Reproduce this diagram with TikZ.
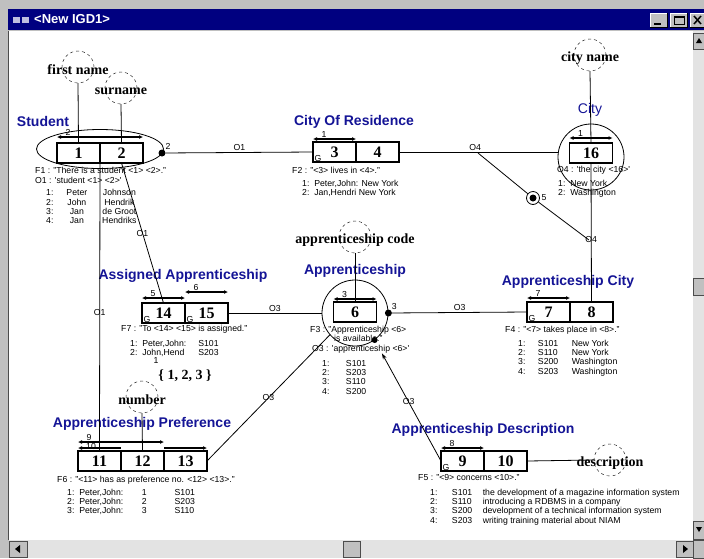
\documentclass[tikz,border=0pt]{standalone}
\usepackage{fontspec}
\setmainfont{Liberation Serif}
\setsansfont{Liberation Sans}
\usetikzlibrary{positioning,shapes.geometric,arrows.meta}

\definecolor{otblue}{RGB}{20,20,150}
\definecolor{winblue}{RGB}{0,0,128}
\definecolor{wingray}{RGB}{192,192,192}

\begin{document}
\begin{tikzpicture}[x=1pt,y=-1pt,
    rolebox/.style={draw, line width=1.2pt, minimum width=43pt, minimum height=20pt,
        inner sep=0pt, outer sep=0pt, font=\fontsize{16}{16}\selectfont\bfseries},
    otname/.style={text=otblue, font=\fontsize{14}{14}\selectfont\sffamily\bfseries, inner sep=0pt},
    attrname/.style={font=\fontsize{14}{14}\selectfont\bfseries, inner sep=0pt},
    attrcirc/.style={draw, circle, dash pattern=on 3pt off 3pt, minimum size=32pt, inner sep=0pt},
    tiny/.style={font=\fontsize{8.7}{9.4}\selectfont\sffamily, inner sep=0pt},
    fact/.style={tiny, anchor=base west},
    pop/.style={tiny, anchor=north west},
    gmark/.style={tiny, anchor=south west, xshift=1.5pt, yshift=0.5pt},
    ulabel/.style={tiny, anchor=south west, xshift=8pt, yshift=0.5pt},
    roledot/.style={circle, fill=black, minimum size=7pt, inner sep=0pt},
    uniq/.style={line width=1.1pt, {Latex[length=4pt,width=4pt]}-{Latex[length=4pt,width=4pt]}},
    conn/.style={line width=0.8pt},
    btn/.style={fill=wingray, draw=gray!60!black, line width=0.6pt},
]
    \useasboundingbox (0,0) rectangle (704,558);

    % Window frame and title bar
    \fill[wingray] (0,0) rectangle (704,558);
    \fill[white] (9,31) rectangle (693,540);
    \draw[gray!60!black, line width=1pt] (8.5,31) -- (8.5,540);
    \fill[winblue] (8,9) rectangle (704,30);
    \fill[white!75!winblue] (13,17) rectangle (20,23);
    \fill[white!75!winblue] (22,17) rectangle (29,23);
    \node[anchor=west, text=white, font=\fontsize{13}{13}\selectfont\sffamily\bfseries, inner sep=0pt] (title) at (34,19.5) {<New IGD1>};

    % Title bar buttons
    \foreach \bx in {650,670,690} {
        \fill[wingray] (\bx,13) rectangle ++(17,14);
        \draw[white] (\bx,27) -- (\bx,13) -- ++(17,0);
        \draw[black] (\bx,27) -- ++(17,0) -- ++(0,-14);
    }
    \draw[line width=2pt] (654,24) -- (661,24);
    \draw[line width=1pt] (674,16) rectangle (684,24);
    \draw[line width=2pt] (674,16.5) -- (684,16.5);
    \draw[line width=1.5pt] (694,16) -- (701,24) (701,16) -- (694,24);

    % Scroll bars
    \fill[gray!22] (693,31) rectangle (704,540);
    \fill[gray!22] (9,540) rectangle (693,558);
    \draw[btn] (693,33) rectangle (704,49);
    \draw[btn] (693,278) rectangle (704,295);
    \draw[btn] (693,521) rectangle (704,539);
    \draw[btn] (9,541) rectangle (27,557);
    \draw[btn] (343,541) rectangle (360,557);
    \draw[btn] (676,541) rectangle (693,557);
    \draw[btn] (693,540) rectangle (704,558);
    \fill (699,38) -- (702,43) -- (696,43) -- cycle;
    \fill (696,527) -- (702,527) -- (699,532) -- cycle;
    \fill (15,549) -- (20,545) -- (20,553) -- cycle;
    \fill (688,549) -- (683,545) -- (683,553) -- cycle;

    % Student
    \node[draw, ellipse, minimum width=127pt, minimum height=39pt, conn] (studc) at (100,149) {};
    \node[rolebox, anchor=north west] (r1) at (57,143) {1};
    \node[rolebox, right=0pt of r1] (r2) {2};
    \node[otname] (studn) at (43,121) {Student};
    \draw[uniq] ([yshift=6pt]r1.north west) -- ([yshift=6pt]r2.north east) node[ulabel, pos=0] {2};
    \node[attrcirc] (fname) at (78,67) {};
    \node[attrname] at ([yshift=-3pt]fname.center) {first name};
    \node[attrcirc] (sname) at (121,88) {};
    \node[attrname] at ([yshift=-3pt]sname.center) {surname};
    \draw[conn] (fname.south) -- (r1.north);
    \draw[conn] (sname.south) -- (r2.north);
    \node[roledot] (d2) at (162,153) {};
    \node[tiny, above right=1pt of d2] {2};
    \node[fact] (f1) at (35,173) {F1 : "There is a student <1> <2>."};
    \node[fact] (o1) at (35,183) {O1 : \textquotesingle student <1> <2>\textquotesingle};
    \node[pop] (popstud) at (46,189) {\begin{tabular}{@{}l@{\hspace{13pt}}c@{\hspace{15pt}}c@{}}
        1: & Peter & Johnson\\
        2: & John & Hendrik\\
        3: & Jan & de Groot\\
        4: & Jan & Hendriks
    \end{tabular}};

    % City Of Residence
    \node[otname] (resn) at (354,122) {City Of Residence};
    \node[rolebox, anchor=north west] (r3) at (313,142) {3};
    \node[rolebox, right=0pt of r3] (r4) {4};
    \node[gmark] at (r3.south west) {G};
    \draw[uniq] ([yshift=3pt]r3.north west) -- ([yshift=3pt]r3.north east) node[ulabel, pos=0] {1};
    \node[fact] (f2) at (292,173) {F2 : "<3> lives in <4>."};
    \node[pop] (popres) at (302,179.5) {\begin{tabular}{@{}l@{}}
        1:\ \ Peter,John: New York\\
        2:\ \ Jan,Hendri New York
    \end{tabular}};
    \draw[conn] (d2) -- (r3.west) node[tiny, midway, above=1.5pt] {O1};

    % City
    \node[attrcirc] (cname) at (590,55) {};
    \node[attrname] at ([yshift=-3pt]cname.center) {city name};
    \node[text=otblue, font=\fontsize{14}{14}\selectfont\sffamily, inner sep=0pt] (cityn) at (590,110) {City};
    \node[draw, circle, minimum size=66pt, inner sep=0pt, conn] (cityc) at (591,157) {};
    \node[rolebox] (r16) at (591,153) {16};
    \draw[uniq] ([yshift=5pt]r16.north west) -- ([yshift=5pt]r16.north east) node[ulabel, pos=0] {1};
    \draw[conn] (cname.south) -- (r16.north);
    \node[fact] (o4) at (557,172) {O4 : \textquotesingle the city <16>\textquotesingle};
    \node[pop] (popcity) at (558,179.5) {\begin{tabular}{@{}l@{}}
        1:\ \ New York\\
        2:\ \ Washington
    \end{tabular}};
    \draw[conn] (r4.east) -- (cityc.west |- r4.east) node[tiny, pos=0.48, above=1pt] {O4};

    % Constraint between the two city roles
    \coordinate (x4) at (478,153);
    \coordinate (x5) at (589,240);
    \node[draw, circle, minimum size=13pt, inner sep=0pt, conn] (c5) at (533,198) {};
    \node[roledot] at (c5) {};
    \node[tiny, right=1.5pt of c5] {5};
    \draw[conn] (x4) -- (c5);
    \draw[conn] (c5) -- (x5);

    % Apprenticeship
    \node[attrcirc] (acode) at (355,237) {};
    \node[attrname] at ([yshift=-3pt]acode.center) {apprenticeship code};
    \node[otname] (apprn) at (355,271) {Apprenticeship};
    \node[draw, circle, minimum size=66pt, inner sep=0pt, conn] (appc) at (355,313) {};
    \node[rolebox] (r6) at (355,312) {6};
    \draw[uniq] ([yshift=3pt]r6.north west) -- ([yshift=3pt]r6.north east) node[ulabel, pos=0] {3};
    \draw[conn] (acode.south) -- (r6.north);
    \node[roledot] (d3) at (appc.east) {};
    \node[tiny, above right=1pt of d3] {3};
    \node[roledot, minimum size=6pt] (d4) at (appc.306) {};
    \node[fact] (f3) at (310,332) {F3 : "Apprenticeship <6>};
    \node[fact] (f3b) at (334,341.5) {is available."};
    \node[fact] (o3) at (312,351) {O3 : \textquotesingle apprenticeship <6>\textquotesingle};
    \node[pop] (popappr) at (322,359.4) {\begin{tabular}{@{}l@{\hspace{16.5pt}}l@{}}
        1: & S101\\
        2: & S203\\
        3: & S110\\
        4: & S200
    \end{tabular}};

    % Assigned Apprenticeship
    \node[otname] (assn) at (183,276) {Assigned Apprenticeship};
    \node[rolebox, anchor=north west] (r14) at (142,303) {14};
    \node[rolebox, right=0pt of r14] (r15) {15};
    \node[gmark] at (r14.south west) {G};
    \node[gmark] at (r15.south west) {G};
    \draw[uniq] ([yshift=5pt]r14.north west) -- ([yshift=5pt]r14.north east) node[ulabel, pos=0] {5};
    \draw[uniq] ([yshift=11pt]r15.north west) -- ([yshift=11pt]r15.north east) node[ulabel, pos=0] {6};
    \node[fact] (f7) at (121,331) {F7 : "To <14> <15> is assigned."};
    \node[pop] (popass) at (130,339.5) {\begin{tabular}{@{}l@{\hspace{12pt}}l@{}}
        1:\ \ Peter,John: & S101\\
        2:\ \ John,Hend & S203
    \end{tabular}};
    \node[tiny] at (156,360) {1};
    \node[attrname] (vals) at (185,376) {\{ 1, 2, 3 \}};
    \draw[conn] (r2.south) -- (r14.north) node[tiny, midway] {O1};
    \draw[conn] (r15.east) -- (appc.west) node[tiny, midway, above=1.5pt] {O3};

    % Apprenticeship City
    \node[otname] (acityn) at (568,282) {Apprenticeship City};
    \node[rolebox, anchor=north west] (r7) at (527,302) {7};
    \node[rolebox, right=0pt of r7] (r8) {8};
    \node[gmark] at (r7.south west) {G};
    \draw[uniq] ([yshift=4pt]r7.north west) -- ([yshift=4pt]r7.north east) node[ulabel, pos=0] {7};
    \node[fact] (f4) at (505,332) {F4 : "<7> takes place in <8>."};
    \node[pop] (popacity) at (518,339.4) {\begin{tabular}{@{}l@{\hspace{12.5pt}}l@{\hspace{13.5pt}}l@{}}
        1: & S101 & New York\\
        2: & S110 & New York\\
        3: & S200 & Washington\\
        4: & S203 & Washington
    \end{tabular}};
    \draw[conn] (d3) -- (r7.west) node[tiny, midway, above=1.5pt] {O3};
    \draw[conn] (r16.south) -- (r8.north) node[tiny, pos=0.55] {O4};

    % Apprenticeship Preference
    \node[otname] (prefn) at (142,424) {Apprenticeship Preference};
    \node[rolebox, anchor=north west] (r11) at (78,451) {11};
    \node[rolebox, right=0pt of r11] (r12) {12};
    \node[rolebox, right=0pt of r12] (r13) {13};
    \draw[uniq] ([yshift=9pt]r11.north west) -- ([yshift=9pt]r12.north east) node[ulabel, pos=0, yshift=0.5pt] {9};
    \draw[line width=1.1pt, {Latex[length=4pt,width=4pt]}-] ([yshift=3pt]r11.north west) -- ([yshift=3pt]r11.north east);
    \draw[line width=1.1pt, -{Latex[length=4pt,width=4pt]}] ([yshift=3pt]r13.north west) -- ([yshift=3pt]r13.north east);
    \node[tiny, anchor=north west] at ([xshift=8pt,yshift=8pt]r11.north west) {10};
    \node[attrcirc] (numc) at (142,397) {};
    \node[attrname] at ([yshift=-3pt]numc.center) {number};
    \draw[conn] (numc.south) -- (r12.north);
    \node[fact] (f6) at (57,482) {F6 : "<11> has as preference no. <12> <13>."};
    \node[pop] (poppref) at (67,488.4) {\begin{tabular}{@{}l@{\hspace{18.5pt}}l@{\hspace{28pt}}l@{}}
        1:\ \ Peter,John: & 1 & S101\\
        2:\ \ Peter,John: & 2 & S203\\
        3:\ \ Peter,John: & 3 & S110
    \end{tabular}};
    \draw[conn] (r1.south east) -- (r11.north) node[tiny, pos=0.52] {O1};
    \draw[conn] (r13.east) -- (appc.221) node[tiny, midway] {O3};

    % Apprenticeship Description
    \node[otname] (descn) at (483,430) {Apprenticeship Description};
    \node[rolebox, anchor=north west] (r9) at (441,451) {9};
    \node[rolebox, right=0pt of r9] (r10) {10};
    \node[gmark] at (r9.south west) {G};
    \draw[uniq] ([yshift=3pt]r9.north west) -- ([yshift=3pt]r9.north east) node[ulabel, pos=0] {8};
    \node[attrcirc] (descc) at (610,460) {};
    \draw[conn] (r10.east) -- (descc.west);
    \node[attrname] at ([yshift=-3pt]descc.center) {description};
    \node[fact] (f5) at (418,480) {F5 : "<9> concerns <10>."};
    \node[pop] (popdesc) at (430,488.4) {\begin{tabular}{@{}l@{\hspace{14.5pt}}l@{\hspace{10.5pt}}l@{}}
        1: & S101 & the development of a magazine information system\\
        2: & S110 & introducing a RDBMS in a company\\
        3: & S200 & development of a technical information system\\
        4: & S203 & writing training material about NIAM
    \end{tabular}};
    \draw[conn, -{Stealth[length=6pt,width=4pt]}, shorten >=12pt] (r9.west) -- (d4) node[tiny, midway] {O3};
\end{tikzpicture}
\end{document}
